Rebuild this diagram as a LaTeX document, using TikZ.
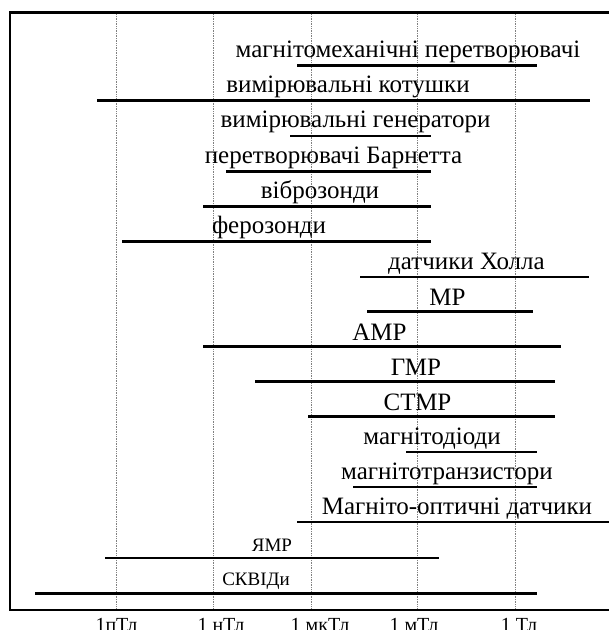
\documentclass[tikz,border=0pt]{standalone}
\usepackage{fontspec}
\setmainfont{Liberation Serif}
\begin{document}
\begin{tikzpicture}[x=1pt,y=-1pt,
  bar/.style={line width=2.6pt},
  framed/.style={line width=2.8pt},
  gridline/.style={densely dotted, gray, line width=0.7pt},
  lbl/.style={anchor=base, inner sep=0pt, font=\fontsize{25}{27}\selectfont},
  slbl/.style={anchor=base, inner sep=0pt, font=\fontsize{19}{21}\selectfont},
  axl/.style={anchor=base, inner sep=0pt, font=\fontsize{20}{22}\selectfont}]
\useasboundingbox (0,0) rectangle (609,630);
% grid lines
\foreach \gx in {116,213.5,311.5,417.3,515}
  \draw[gridline] (\gx,12.5) -- (\gx,610);
% frame
\draw[framed] (609,12.5) -- (10,12.5) -- (10,610) -- (609,610);
% bars
\draw[bar] (297,65.5) -- (537,65.5);
\draw[bar] (97,100.5) -- (589.5,100.5);
\draw[bar] (290,136) -- (431,136);
\draw[bar] (226,171.5) -- (431,171.5);
\draw[bar] (203,206.5) -- (431,206.5);
\draw[bar] (122,241.7) -- (431,241.7);
\draw[bar] (360,277) -- (589,277);
\draw[bar] (367,311.7) -- (533,311.7);
\draw[bar] (203,346.7) -- (561,346.7);
\draw[bar] (255,381.7) -- (554.5,381.7);
\draw[bar] (308,416.7) -- (554.5,416.7);
\draw[bar] (406,452) -- (537,452);
\draw[bar] (353,487) -- (537,487);
\draw[bar] (297,522) -- (609,522);
\draw[bar] (105,558) -- (439,558);
\draw[bar] (35,593.3) -- (537,593.3);
% labels
\node[lbl] (t1) at (408,57) {магнітомеханічні перетворювачі};
\node[lbl] (t2) at (348,92) {вимірювальні котушки};
\node[lbl] (t3) at (355.5,127) {вимірювальні генератори};
\node[lbl] (t4) at (333.5,163) {перетворювачі Барнетта};
\node[lbl] (t5) at (320,198) {віброзонди};
\node[lbl] (t6) at (269,233) {ферозонди};
\node[lbl] (t7) at (466.5,269) {датчики Холла};
\node[lbl] (t8) at (447.5,305) {МР};
\node[lbl] (t9) at (379.5,340) {АМР};
\node[lbl] (t10) at (416,375) {ГМР};
\node[lbl] (t11) at (417.5,410) {СТМР};
\node[lbl] (t12) at (432,444) {магнітодіоди};
\node[lbl] (t13) at (447,479) {магнітотранзистори};
\node[lbl] (t14) at (457,514) {Магніто-оптичні датчики};
\node[slbl] (t15) at (272,551) {ЯМР};
\node[slbl] (t16) at (256,585) {СКВІДи};
% axis labels
\node[axl] (a1) at (116.5,631) {1пТл};
\node[axl] (a2) at (221,631) {1 нТл};
\node[axl] (a3) at (320,631) {1 мкТл};
\node[axl] (a4) at (414,631) {1 мТл};
\node[axl] (a5) at (519,631) {1 Тл};
\end{tikzpicture}
\end{document}
